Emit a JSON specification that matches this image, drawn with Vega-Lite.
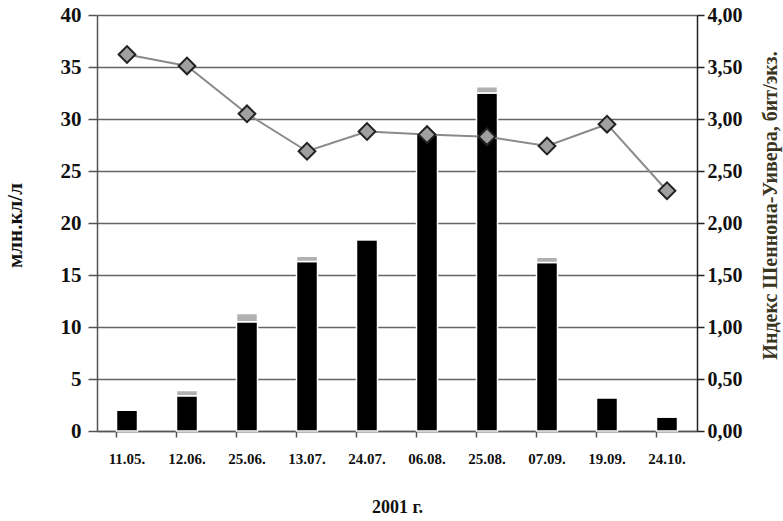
{
  "$schema": "https://vega.github.io/schema/vega-lite/v6.json",
  "autosize": {"type": "none"},
  "padding": {"left": 97, "top": 15, "right": 86, "bottom": 90},
  "width": 600,
  "height": 416,
  "background": "white",
  "config": {
    "view": {"stroke": null},
    "font": "Liberation Serif",
    "axis": {"labelFont": "Liberation Serif", "titleFont": "Liberation Serif", "labelFontWeight": "bold", "titleFontWeight": "bold", "labelColor": "#111", "titleColor": "#111"}
  },
  "data": {
    "values": [
      {"date": "11.05.", "main": 2.0, "other": 0.0, "index": 3.62},
      {"date": "12.06.", "main": 3.4, "other": 0.5, "index": 3.51},
      {"date": "25.06.", "main": 10.5, "other": 0.8, "index": 3.05},
      {"date": "13.07.", "main": 16.3, "other": 0.5, "index": 2.69},
      {"date": "24.07.", "main": 18.4, "other": 0.1, "index": 2.88},
      {"date": "06.08.", "main": 28.6, "other": 0.0, "index": 2.85},
      {"date": "25.08.", "main": 32.5, "other": 0.6, "index": 2.83},
      {"date": "07.09.", "main": 16.2, "other": 0.5, "index": 2.74},
      {"date": "19.09.", "main": 3.2, "other": 0.0, "index": 2.95},
      {"date": "24.10.", "main": 1.35, "other": 0.0, "index": 2.31}
    ]
  },
  "encoding": {
    "x": {
      "field": "date", "type": "nominal", "sort": null,
      "scale": {"paddingInner": 0.65, "paddingOuter": 0.325},
      "axis": {"title": "2001 г.", "labelAngle": 0, "labelFontSize": 15, "titleFontSize": 18, "titlePadding": 32, "labelPadding": 14, "tickSize": 6, "bandPosition": 0, "domainColor": "#555", "domainWidth": 1.5, "tickColor": "#555", "tickWidth": 1.5}
    }
  },
  "layer": [
    {
      "transform": [{"fold": ["main", "other"], "as": ["part", "value"]}],
      "mark": {"type": "bar", "stroke": "white", "strokeWidth": 1.5},
      "encoding": {
        "y": {
          "field": "value", "type": "quantitative", "stack": "zero",
          "scale": {"domain": [0, 40], "nice": false},
          "axis": {"title": "млн.кл/л", "titleX": -82, "titleY": 210, "titleAlign": "center", "titleBaseline": "middle", "values": [0, 5, 10, 15, 20, 25, 30, 35, 40], "labelFontSize": 21, "titleFontSize": 21, "labelPadding": 7, "tickSize": 9, "grid": true, "gridColor": "#666", "gridWidth": 1.5, "domainColor": "#555", "domainWidth": 1.5, "tickColor": "#555", "tickWidth": 1.5}
        },
        "color": {"field": "part", "type": "nominal", "scale": {"domain": ["main", "other"], "range": ["#000000", "#b0b0b0"]}, "legend": null},
        "order": {"field": "part", "sort": "ascending"}
      }
    },
    {
      "layer": [
        {"mark": {"type": "line", "color": "#8a8a8a", "strokeWidth": 2}},
        {"mark": {"type": "point", "shape": "diamond", "size": 280, "filled": true, "fill": "#a0a0a0", "stroke": "#222", "strokeWidth": 2, "opacity": 1}}
      ],
      "encoding": {
        "y": {
          "field": "index", "type": "quantitative",
          "scale": {"domain": [0, 4], "nice": false},
          "axis": {"orient": "right", "title": "Индекс Шеннона-Уивера, бит/экз.", "titleAngle": 270, "titleX": 73, "titleY": 190, "titleAlign": "center", "titleBaseline": "middle", "values": [0, 0.5, 1, 1.5, 2, 2.5, 3, 3.5, 4], "labelExpr": "replace(format(datum.value, '.2f'), '.', ',')", "labelFontSize": 20, "titleFontSize": 20, "titleColor": "#3a3520", "labelPadding": 3, "tickSize": 7, "grid": false, "domainColor": "#222", "domainWidth": 1.5, "tickColor": "#222", "tickWidth": 1.5}
        }
      }
    }
  ],
  "resolve": {"scale": {"y": "independent"}}
}
